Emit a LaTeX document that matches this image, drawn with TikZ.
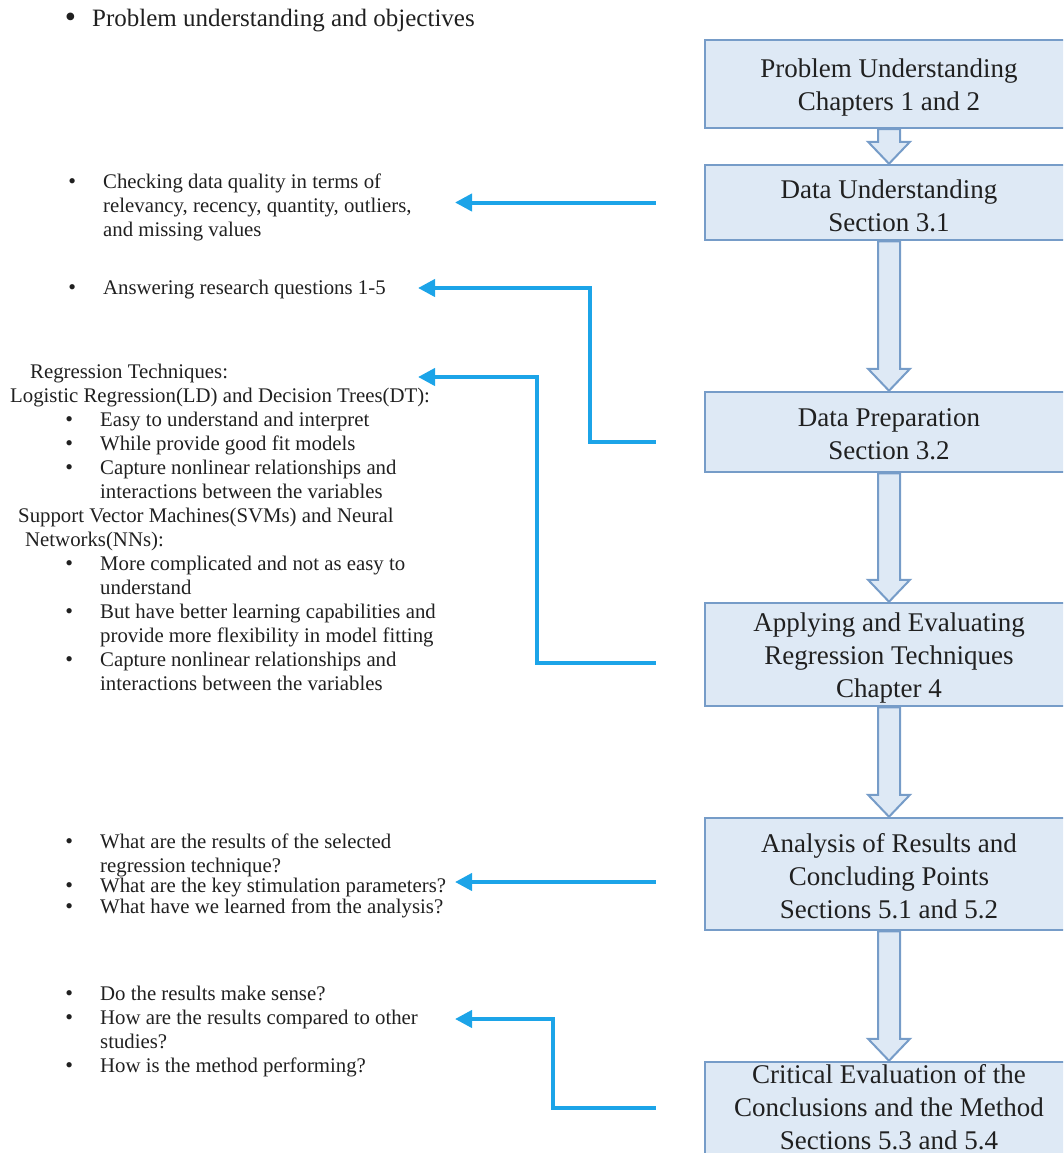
\documentclass[tikz,border=0pt]{standalone}
\usepackage{fontspec}
\setmainfont{Liberation Serif}
\usetikzlibrary{arrows.meta,calc}
\definecolor{connblue}{RGB}{28,164,232}
\definecolor{boxfill}{RGB}{222,233,245}
\definecolor{boxline}{RGB}{118,156,200}
\definecolor{txt}{RGB}{32,32,32}
\newcommand\bl{\llap{\smash{\fontsize{22}{22}\selectfont\textbullet}\hspace{27pt}}}
\newcommand\hollowarrow[3]{%
  \path[harrow] let \p1=(#1.south), \p2=(#2.north) in
    (\x1-11pt,\y1) -- (\x1-11pt,\y2+#3) -- (\x1-21pt,\y2+#3) -- (\x2,\y2)
    -- (\x1+21pt,\y2+#3) -- (\x1+11pt,\y2+#3) -- (\x1+11pt,\y1) -- cycle;}
\begin{document}
\begin{tikzpicture}[x=1pt,y=-1pt,
  box/.style={draw=boxline, fill=boxfill, line width=2.5pt, minimum width=368pt, inner sep=0pt},
  boxtext/.style={align=center, text=txt, font=\fontsize{27}{33}\selectfont, inner sep=0pt},
  harrow/.style={draw=boxline, fill=boxfill, line width=2pt, line join=miter},
  lefttext/.style={align=left, anchor=north west, inner sep=0pt, text=txt, font=\fontsize{20.8}{24}\selectfont},
  conn/.style={draw=connblue, line width=4pt, line join=miter, -{Triangle[length=17pt,width=17pt]}}]
\useasboundingbox (0,0) rectangle (1063,1153);
\clip (0,0) rectangle (1063,1153);

% top heading
\node[anchor=north west, inner sep=0pt, text=txt, font=\fontsize{25}{29}\selectfont] (t0) at (92,9)
  {\llap{\smash{\raisebox{-1pt}{\fontsize{32}{32}\selectfont\textbullet}}\hspace{16pt}}Problem understanding and objectives};

% boxes
\node[box, minimum height=88pt] (b1) at (889,84) {};
\node[box, minimum height=75pt] (b2) at (889,202.5) {};
\node[box, minimum height=80pt] (b3) at (889,432) {};
\node[box, minimum height=103pt] (b4) at (889,654.5) {};
\node[box, minimum height=112pt] (b5) at (889,874) {};
\node[box, minimum height=92pt] (b6) at (889,1108) {};

\node[boxtext] (b1t) at ($(b1.center)+(0,4)$) {Problem Understanding\\Chapters 1 and 2};
\node[boxtext] (b2t) at ($(b2.center)+(0,3)$) {Data Understanding\\Section 3.1};
\node[boxtext] (b3t) at ($(b3.center)+(0,2)$) {Data Preparation\\Section 3.2};
\node[boxtext] (b4t) at ($(b4.center)+(0,3)$) {Applying and Evaluating\\Regression Techniques\\Chapter 4};
\node[boxtext] (b5t) at ($(b5.center)+(0,2)$) {Analysis of Results and\\Concluding Points\\Sections 5.1 and 5.2};
\node[boxtext] (b6t) at ($(b6.center)+(0,-1)$) {Critical Evaluation of the\\Conclusions and the Method\\Sections 5.3 and 5.4};

% hollow arrows
\hollowarrow{b1}{b2}{22pt}
\hollowarrow{b2}{b3}{22pt}
\hollowarrow{b3}{b4}{22pt}
\hollowarrow{b4}{b5}{22pt}
\hollowarrow{b5}{b6}{22pt}

% left texts
\node[lefttext] (t1) at (103,174) {\bl Checking data quality in terms of\\
relevancy, recency, quantity, outliers,\\
and missing values};
\node[lefttext] (t2) at (103,280) {\bl Answering research questions 1-5};
\node[lefttext] (t3) at (10,364) {\hspace*{20pt}Regression Techniques:\\
Logistic Regression(LD) and Decision Trees(DT):\\
\hspace*{90pt}\bl Easy to understand and interpret\\
\hspace*{90pt}\bl While provide good fit models\\
\hspace*{90pt}\bl Capture nonlinear relationships and\\
\hspace*{90pt}interactions between the variables\\
\hspace*{8pt}Support Vector Machines(SVMs) and Neural\\
\hspace*{15pt}Networks(NNs):\\
\hspace*{90pt}\bl More complicated and not as easy to\\
\hspace*{90pt}understand\\
\hspace*{90pt}\bl But have better learning capabilities and\\
\hspace*{90pt}provide more flexibility in model fitting\\
\hspace*{90pt}\bl Capture nonlinear relationships and\\
\hspace*{90pt}interactions between the variables};
\node[lefttext] (t4) at (100,834) {\bl What are the results of the selected\\
regression technique?\\[-4pt]
\bl What are the key stimulation parameters?\\[-3pt]
\bl What have we learned from the analysis?};
\node[lefttext] (t5) at (100,986) {\bl Do the results make sense?\\
\bl How are the results compared to other\\
studies?\\
\bl How is the method performing?};

% connector start points and tips
\coordinate (s1) at ([xshift=-48pt]b2.west);
\coordinate (s2) at ([xshift=-48pt,yshift=-10pt]b3.west);
\coordinate (s3) at ([xshift=-48pt,yshift=-8.5pt]b4.west);
\coordinate (s4) at ([xshift=-48pt,yshift=-8pt]b5.west);
\coordinate (s5) at ([xshift=-48pt]b6.west);
\coordinate (p1) at (455,202.5);
\coordinate (p2) at (418,288);
\coordinate (p3) at (418,377);
\coordinate (p4) at (455,882);
\coordinate (p5) at (455,1019);

\draw[conn] (s1) -- (p1);
\draw[conn] (s2) -| (590,288) -- (p2);
\draw[conn] (s3) -| (537,377) -- (p3);
\draw[conn] (s4) -- (p4);
\draw[conn] (s5) -| (553,1019) -- (p5);
\end{tikzpicture}
\end{document}
